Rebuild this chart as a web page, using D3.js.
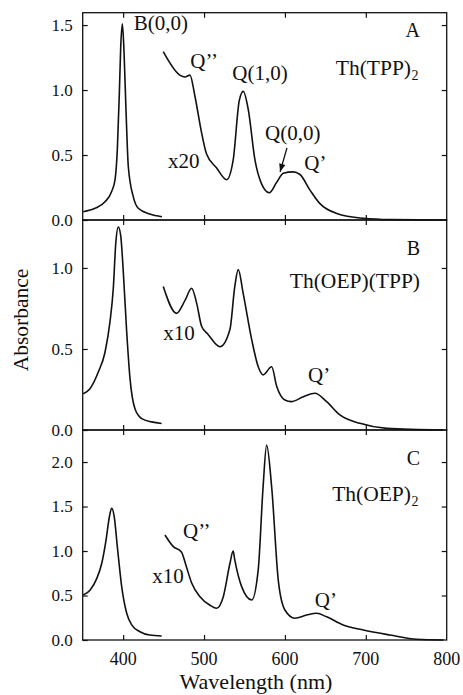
<!DOCTYPE html>
<html>
<head>
<meta charset="utf-8">
<script src="https://cdn.jsdelivr.net/npm/d3@7"></script>
<style>
  html, body { margin: 0; padding: 0; background: #fff; }
  svg { display: block; }
</style>
</head>
<body>
<svg id="chart" width="463" height="695" font-family="'Liberation Serif', 'DejaVu Serif', serif"></svg>
<script>
// ---------- Data (wavelength nm, absorbance) ----------
// Panel A: Th(TPP)2
const soretA_nm  = [350.7, 365.2, 377.6, 385.8, 390, 392.8, 395.3, 397, 399, 401, 403.5, 406.4, 412.5, 418.7, 433, 448];
const soretA_abs = [0.064, 0.09, 0.14, 0.22, 0.31, 0.54, 0.975, 1.33, 1.51, 1.31, 0.85, 0.41, 0.18, 0.09, 0.046, 0.025];
const qA_nm  = [449.6, 470, 476.5, 482.6, 488.8, 497, 503, 515.6, 528, 536, 543.6, 548.5, 554.7, 563, 571, 580.7, 589.8, 598, 610, 618.6, 631, 643, 664, 697, 730, 800];
const qA_abs = [1.295, 1.115, 1.10, 1.115, 0.95, 0.67, 0.51, 0.40, 0.31, 0.46, 0.92, 0.99, 0.85, 0.46, 0.28, 0.21, 0.29, 0.36, 0.37, 0.35, 0.23, 0.128, 0.05, 0.013, 0.003, 0.0];

// Panel B: Th(OEP)(TPP)
const soretB_nm  = [350.7, 359, 369.3, 377.6, 383.7, 387.8, 391, 394, 397, 400.2, 404.4, 408.5, 414.6, 423, 435.3, 447.6];
const soretB_abs = [0.224, 0.255, 0.358, 0.48, 0.667, 0.872, 1.16, 1.253, 1.20, 0.975, 0.605, 0.317, 0.131, 0.07, 0.05, 0.04];
const qB_nm  = [449.6, 466, 476.5, 484.7, 491, 497, 505, 519.7, 532, 538, 542.3, 548.5, 559, 567, 573, 583.6, 589.8, 600, 608, 622.7, 637, 651.6, 668, 692.8, 725.8, 795.7];
const qB_abs = [0.885, 0.72, 0.80, 0.875, 0.78, 0.64, 0.59, 0.514, 0.62, 0.885, 0.99, 0.84, 0.556, 0.39, 0.34, 0.39, 0.27, 0.185, 0.175, 0.205, 0.227, 0.175, 0.093, 0.041, 0.01, 0.0];

// Panel C: Th(OEP)2
const soretC_nm  = [350.7, 359, 367.3, 373.5, 378.8, 383, 385.8, 389, 392.8, 398.2, 404.4, 410.6, 420.8, 433, 447.6];
const soretC_abs = [0.506, 0.56, 0.69, 0.86, 1.12, 1.385, 1.48, 1.385, 1.05, 0.60, 0.30, 0.17, 0.093, 0.056, 0.045];
const qC_nm  = [451.7, 462, 472, 478.3, 484.7, 495, 507.4, 515.6, 523.8, 532, 536, 538, 546.5, 559, 567, 573, 577.4, 583.6, 591.8, 600, 612.4, 626.9, 639.2, 651.6, 672, 697, 730, 763, 796];
const qC_abs = [1.18, 1.05, 0.99, 0.82, 0.64, 0.487, 0.39, 0.356, 0.487, 0.86, 1.0, 0.9, 0.6, 0.45, 0.79, 1.72, 2.19, 1.72, 0.67, 0.337, 0.244, 0.28, 0.30, 0.26, 0.169, 0.112, 0.056, 0.008, 0.0];

const xTicks = [400, 500, 600, 700, 800];
const yTicksA = [0.0, 0.5, 1.0, 1.5];
const yTicksB = [0.0, 0.5, 1.0];
const yTicksC = [0.0, 0.5, 1.0, 1.5, 2.0];
const yMaxes = [1.595, 1.296, 2.36];

const panelLetters = ["A", "B", "C"];
const compounds = [["Th(TPP)", "2"], ["Th(OEP)(TPP)", ""], ["Th(OEP)", "2"]];

// ---------- Layout ----------
const svg = d3.select("#chart");
const left = 82.7, right = 446.7;
const panelTops = [12.7, 220, 430];
const panelBottoms = [220, 430, 640];
const FONT = "'Liberation Serif', 'DejaVu Serif', serif";
const INK = "#111";

const x = d3.scaleLinear().domain([350, 800]).range([left, right]);

const panels = [
  { soret: [soretA_nm, soretA_abs], q: [qA_nm, qA_abs], ticks: yTicksA },
  { soret: [soretB_nm, soretB_abs], q: [qB_nm, qB_abs], ticks: yTicksB },
  { soret: [soretC_nm, soretC_abs], q: [qC_nm, qC_abs], ticks: yTicksC }
];

const tickLen = 5;

function txt(sel) {
  return sel.attr("font-family", FONT).attr("fill", INK);
}

panels.forEach((p, i) => {
  const y = d3.scaleLinear().domain([0, yMaxes[i]]).range([panelBottoms[i], panelTops[i]]);
  p.y = y;
  const g = svg.append("g");

  // frame
  g.append("rect")
    .attr("x", left).attr("y", panelTops[i])
    .attr("width", right - left).attr("height", panelBottoms[i] - panelTops[i])
    .attr("fill", "none").attr("stroke", INK).attr("stroke-width", 1.3);

  // left axis (inward ticks)
  const yl = d3.axisRight(y).tickValues(p.ticks).tickSize(tickLen).tickFormat("");
  g.append("g").attr("transform", `translate(${left},0)`).call(yl)
    .call(s => s.select(".domain").remove())
    .call(s => s.selectAll("line").attr("stroke", INK).attr("stroke-width", 1.2));
  // left labels
  g.selectAll(".ylab").data(p.ticks).enter().append("text")
    .call(txt)
    .attr("x", left - 10).attr("y", d => y(d))
    .attr("dy", "0.35em").attr("text-anchor", "end")
    .attr("font-size", 17)
    .text(d => d3.format(".1f")(d));

  // right axis (inward ticks)
  const yr = d3.axisLeft(y).tickValues(p.ticks.filter(t => t > 0)).tickSize(tickLen).tickFormat("");
  g.append("g").attr("transform", `translate(${right},0)`).call(yr)
    .call(s => s.select(".domain").remove())
    .call(s => s.selectAll("line").attr("stroke", INK).attr("stroke-width", 1.2));

  // bottom axis ticks (inward, upward)
  const xb = d3.axisTop(x).tickValues(xTicks.filter(t => t < 800)).tickSize(tickLen).tickFormat("");
  g.append("g").attr("transform", `translate(0,${panelBottoms[i]})`).call(xb)
    .call(s => s.select(".domain").remove())
    .call(s => s.selectAll("line").attr("stroke", INK).attr("stroke-width", 1.2));
  // top axis ticks (inward, downward)
  const xt = d3.axisBottom(x).tickValues(xTicks.filter(t => t < 800)).tickSize(tickLen).tickFormat("");
  g.append("g").attr("transform", `translate(0,${panelTops[i]})`).call(xt)
    .call(s => s.select(".domain").remove())
    .call(s => s.selectAll("line").attr("stroke", INK).attr("stroke-width", 1.2));

  // curves
  const line = d3.line().x(d => x(d[0])).y(d => y(d[1])).curve(d3.curveMonotoneX);
  [p.soret, p.q].forEach(arr => {
    const pts = arr[0].map((v, k) => [v, arr[1][k]]);
    g.append("path").datum(pts)
      .attr("d", line)
      .attr("fill", "none").attr("stroke", INK).attr("stroke-width", 1.6)
      .attr("stroke-linejoin", "round");
  });

  // panel letter
  g.append("text").call(txt)
    .attr("x", 420).attr("y", panelTops[i] + (i === 0 ? 24 : 35))
    .attr("text-anchor", "end")
    .attr("font-size", 20)
    .text(panelLetters[i]);

  // compound label
  g.append("text").call(txt)
    .attr("x", 420 - (compounds[i][1] ? 9 : 0)).attr("y", panelTops[i] + (i === 0 ? 62 : (i === 1 ? 68 : 71)))
    .attr("text-anchor", "end")
    .attr("font-size", 21.5)
    .text(compounds[i][0]);
  if (compounds[i][1]) {
    g.append("text").call(txt)
      .attr("x", 411.5).attr("y", panelTops[i] + (i === 0 ? 67 : 76))
      .attr("font-size", 14)
      .text(compounds[i][1]);
  }
});

// bottom tick labels
svg.selectAll(".xlab").data(xTicks).enter().append("text").call(txt)
  .attr("x", d => x(d)).attr("y", 665)
  .attr("text-anchor", "middle")
  .attr("font-size", 18)
  .text(d => d);

// axis titles
svg.append("text").call(txt)
  .attr("x", 256).attr("y", 689)
  .attr("text-anchor", "middle")
  .attr("font-size", 22)
  .text("Wavelength (nm)");

svg.append("text").call(txt)
  .attr("transform", "translate(28,320) rotate(-90)")
  .attr("text-anchor", "middle")
  .attr("font-size", 21.5)
  .text("Absorbance");

// ---------- Annotations (positioned in data coordinates) ----------
const yA = panels[0].y, yB = panels[1].y, yC = panels[2].y;
function ann(t, nm, val, ys, size) {
  svg.append("text").call(txt).attr("x", x(nm)).attr("y", ys(val))
    .attr("font-size", size || 21).text(t);
}
ann("B(0,0)", 413, 1.46, yA);
ann("Q\u2019\u2019", 483, 1.17, yA);
ann("Q(1,0)", 535, 1.077, yA);
ann("x20", 455.5, 0.40, yA);
ann("Q(0,0)", 575.5, 0.615, yA);
ann("Q\u2019", 624, 0.385, yA);
ann("x10", 449.5, 0.556, yB);
ann("Q\u2019", 628.5, 0.296, yB);
ann("Q\u2019\u2019", 474, 1.146, yC);
ann("x10", 436, 0.64, yC);
ann("Q\u2019", 637, 0.37, yC);

// arrow for Q(0,0)
const ax1 = x(602.5), ay1 = yA(0.554), ax2 = x(594), ay2 = yA(0.37);
svg.append("line").attr("x1", ax1).attr("y1", ay1).attr("x2", ax2).attr("y2", ay2)
  .attr("stroke", INK).attr("stroke-width", 1.3);
{
  const ang = Math.atan2(ay2 - ay1, ax2 - ax1);
  const L = 8, W = 3.2;
  const bx = ax2 - L * Math.cos(ang), by = ay2 - L * Math.sin(ang);
  const px = -Math.sin(ang) * W, py = Math.cos(ang) * W;
  svg.append("path")
    .attr("d", `M${ax2},${ay2}L${bx + px},${by + py}L${bx - px},${by - py}Z`)
    .attr("fill", INK);
}
</script>
</body>
</html>
